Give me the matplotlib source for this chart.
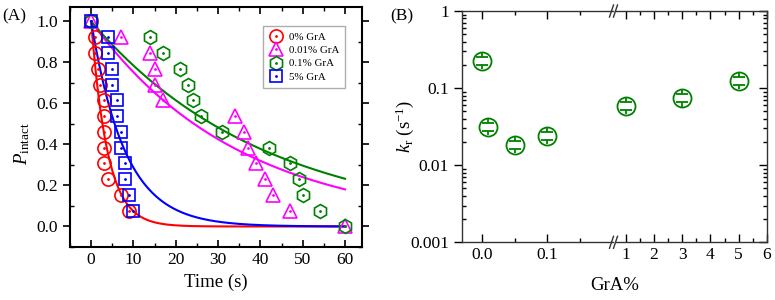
import numpy as np
import matplotlib
matplotlib.use('Agg')
import matplotlib.pyplot as plt
from matplotlib.ticker import MultipleLocator, FixedLocator, NullFormatter, LogLocator

plt.rcParams['font.family'] = ['Liberation Serif', 'DejaVu Serif']
plt.rcParams['mathtext.fontset'] = 'custom'
plt.rcParams['mathtext.rm'] = 'Liberation Serif'
plt.rcParams['mathtext.it'] = 'Liberation Serif:italic'

# ---- panel A data: time (s) vs fraction intact ----
t_0 = [0, 1, 1, 1.6, 2, 3, 3, 3, 3, 3, 4, 7, 9]
p_0 = [1.0, 0.923, 0.846, 0.769, 0.692, 0.615, 0.538, 0.462, 0.385, 0.308, 0.231, 0.154, 0.077]
t_001 = [0, 7, 14, 15, 15, 17, 34, 36, 37, 39, 41, 43, 47, 60]
p_001 = [1.0, 0.923, 0.846, 0.769, 0.692, 0.615, 0.538, 0.462, 0.385, 0.308, 0.231, 0.154, 0.077, 0.0]
t_01 = [0, 14, 17, 21, 23, 24, 26, 31, 42, 47, 49, 50, 54, 60]
p_01 = [1.0, 0.923, 0.846, 0.769, 0.692, 0.615, 0.538, 0.462, 0.385, 0.308, 0.231, 0.154, 0.077, 0.0]
t_5 = [0, 4, 4, 5, 5, 6, 6, 7, 7, 8, 8, 9, 10]
p_5 = [1.0, 0.923, 0.846, 0.769, 0.692, 0.615, 0.538, 0.462, 0.385, 0.308, 0.231, 0.154, 0.077]

labels = ['0% GrA', '0.01% GrA', '0.1% GrA', '5% GrA']
colors = ['#ff0000', '#ff00ff', '#008000', '#0000ff']
markers = ['o', '^', 'h', 's']
msizes = [9.5, 10, 10, 8.5]
k_fit = [0.26, 0.0285, 0.0243, 0.125]   # fitted rates for the curves

# ---- panel B data: rate constant vs GrA % ----
gra_low = [0, 0.01, 0.05, 0.1]
kr_low = [0.225, 0.0316, 0.0183, 0.0239]
gra_high = [1, 3, 5]
kr_high = [0.0586, 0.0738, 0.125]

fig = plt.figure(figsize=(7.75, 3.0), dpi=100)

# ================= panel A =================
ax = fig.add_axes([70/775, 1-247/300, 292/775, 240/300])
series = [(t_0, p_0), (t_001, p_001), (t_01, p_01), (t_5, p_5)]
tt = np.linspace(0, 60, 400)
handles = []
for (t, p), c, m, ms, k, lab in zip(series, colors, markers, msizes, k_fit, labels):
    ax.plot(tt, np.exp(-k * tt), color=c, lw=1.5, zorder=2)
    h1, = ax.plot(t, p, ls='none', marker=m, ms=ms, mfc='none', mec=c, mew=1.2, zorder=3)
    h2, = ax.plot(t, p, ls='none', marker='.', ms=2, color=c, zorder=3)
    handles.append((h1, h2))

ax.set_xlim(-5, 64)
ax.set_ylim(-0.1, 1.07)
ax.xaxis.set_major_locator(MultipleLocator(10))
ax.xaxis.set_minor_locator(MultipleLocator(5))
ax.yaxis.set_major_locator(MultipleLocator(0.2))
ax.yaxis.set_minor_locator(MultipleLocator(0.1))
ax.yaxis.set_major_formatter(plt.FuncFormatter(lambda v, pos: '%.1f' % v))
ax.tick_params(axis='both', which='both', direction='in', top=True, right=True, labelsize=12.5)
ax.tick_params(axis='both', which='major', length=5, width=1.2)
ax.tick_params(axis='both', which='minor', length=3, width=1)
ax.tick_params(axis='y', which='major', left=True, direction='out')
for s in ax.spines.values():
    s.set_linewidth(1.5)
ax.set_xlabel('Time (s)', fontsize=13.5)
ax.set_ylabel(r'$P_{\rm intact}$', fontsize=13.5)
ax.yaxis.set_label_coords(-0.13, 0.43)
leg = ax.legend(handles, labels, loc='upper right', bbox_to_anchor=(0.962, 0.945),
                fontsize=7.8, frameon=True, fancybox=False, edgecolor='#999999',
                handlelength=1.2, handletextpad=0.6, borderpad=0.6, labelspacing=0.35)
leg.get_frame().set_linewidth(1.0)
fig.text(2/775, 1-20/300, '(A)', fontsize=12.5)

# ================= panel B (broken x axis) =================
axL = fig.add_axes([462.3/775, 1-242.3/300, 150.2/775, 231.3/300])
axR = fig.add_axes([615.5/775, 1-242.3/300, 151.8/775, 231.3/300])
green = '#008000'
for a, xs, ys in [(axL, gra_low, kr_low), (axR, gra_high, kr_high)]:
    xs = np.array(xs)
    ys = np.array(ys)
    a.set_yscale('log')
    a.set_ylim(0.001, 1)
    a.plot(xs, ys, ls='none', marker='o', ms=13, mfc='none', mec=green, mew=1.3, zorder=3)
    # error bar caps inside the circle
    a.plot(xs, ys * 1.13, ls='none', marker='_', ms=9, mew=1.3, color=green, zorder=3)
    a.plot(xs, ys / 1.13, ls='none', marker='_', ms=9, mew=1.3, color=green, zorder=3)
    a.vlines(xs, ys * 1.13, ys * 1.28, color=green, lw=1.3, zorder=3)
    a.vlines(xs, ys / 1.28, ys / 1.13, color=green, lw=1.3, zorder=3)
    a.tick_params(axis='both', which='both', direction='in', top=True, labelsize=12.5)
    a.tick_params(axis='both', which='major', length=6, width=1)
    a.tick_params(axis='both', which='minor', length=3, width=1)
    for s in a.spines.values():
        s.set_linewidth(1.0)
        s.set_color('#333333')

axL.set_xlim(-0.03, 0.2)
axL.xaxis.set_major_locator(FixedLocator([0, 0.1]))
axL.xaxis.set_minor_locator(FixedLocator([0.05, 0.15]))
axL.set_xticklabels(['0.0', '0.1'])
axL.spines['right'].set_visible(False)
axL.tick_params(axis='y', which='both', right=False)
axL.tick_params(axis='y', which='major', direction='out')
axL.yaxis.set_major_locator(LogLocator(base=10, numticks=10))
axL.yaxis.set_major_formatter(plt.FuncFormatter(lambda v, pos: '%g' % v))
axL.yaxis.set_minor_locator(LogLocator(base=10, subs=np.arange(2, 10), numticks=20))
axL.yaxis.set_minor_formatter(NullFormatter())
axL.set_ylabel(r'$k_{\rm r}$ (s$^{-1}$)', fontsize=13.5)
axL.yaxis.set_label_coords(-0.31, 0.5)

axR.set_xlim(0.64, 6.01)
axR.xaxis.set_major_locator(MultipleLocator(1))
axR.xaxis.set_minor_locator(MultipleLocator(0.5))
axR.xaxis.set_major_formatter(plt.FuncFormatter(lambda v, pos: '%d' % v))
axR.spines['left'].set_visible(False)
axR.tick_params(axis='y', which='both', left=False, labelleft=False, right=True)
axR.yaxis.set_minor_locator(LogLocator(base=10, subs=np.arange(2, 10), numticks=20))
axR.yaxis.set_minor_formatter(NullFormatter())

# break marks "//" at top and bottom
y_bot = 1 - 242.3/300
y_top = y_bot + 231.3/300
for yb in [y_bot, y_top]:
    for x0 in [611.5, 615.5]:
        fig.add_artist(plt.Line2D([(x0 - 2) / 775, (x0 + 2) / 775],
                                  [yb - 6 / 300, yb + 6 / 300],
                                  color='#333333', lw=1.0))

fig.text(0.5 * (462.3 + 767.3) / 775, 0.02, 'GrA%', ha='center', va='bottom', fontsize=13.5)
fig.text(390/775, 1-20/300, '(B)', fontsize=12.5)

fig.savefig('out.png', dpi=100)
